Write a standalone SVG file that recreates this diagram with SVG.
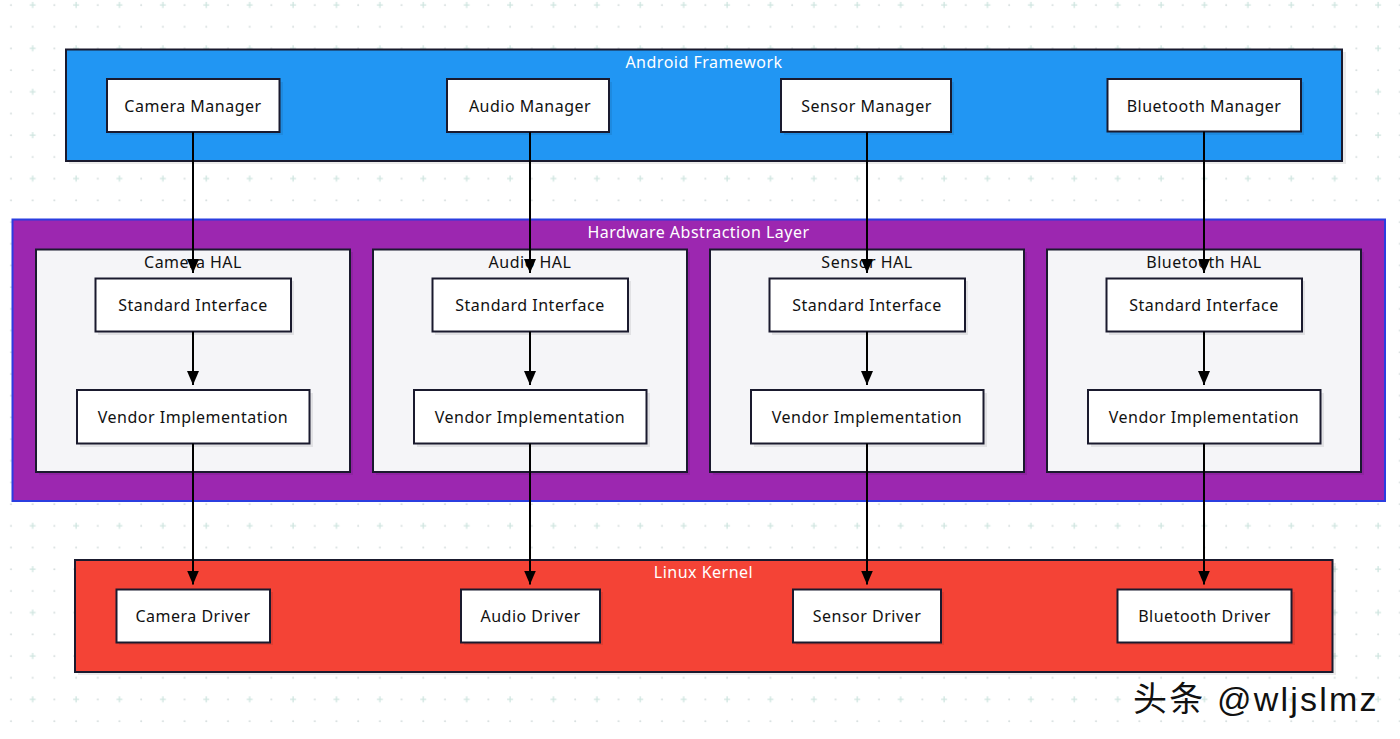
<svg xmlns="http://www.w3.org/2000/svg" width="1400" height="739" viewBox="0 0 1400 739">
<defs>
<pattern id="grid" x="0" y="-6" width="43.4" height="43.4" patternUnits="userSpaceOnUse">
<circle cx="11" cy="11" r="1" fill="#d6dede"/>
<circle cx="11" cy="32.7" r="1" fill="#d6dede"/>
<circle cx="32.7" cy="32.7" r="1" fill="#d6dede"/>
<path d="M29.7 11h6M32.7 8v6" stroke="#cfe5e0" stroke-width="1.3"/>
</pattern>
<marker id="arr" viewBox="0 0 14 12" refX="14" refY="6" markerWidth="14" markerHeight="12" markerUnits="userSpaceOnUse" orient="auto">
<path d="M0 0L14 6L0 12z" fill="#000"/>
</marker>
</defs>
<style>
.lbl{font-family:"Noto Sans","Liberation Sans",sans-serif;font-size:16px;letter-spacing:0.5px;fill:#111;text-anchor:middle;dominant-baseline:central}
.title{font-family:"Noto Sans","Liberation Sans",sans-serif;font-size:16px;letter-spacing:0.5px;fill:#fff;text-anchor:middle;dominant-baseline:central}
.box{fill:#fff;stroke:#1a1a2e;stroke-width:2}
.sh{fill:#000;fill-opacity:0.08}
.hal{fill:#f5f5f8;stroke:#1a1a2e;stroke-width:2}
.edge{stroke:#000;stroke-width:2;fill:none;marker-end:url(#arr)}
</style>
<rect width="1400" height="739" fill="#fff"/>
<rect width="1400" height="739" fill="url(#grid)"/>

<g id="android-framework">
<rect class="sh" x="69" y="52" width="1277" height="112"/>
<rect x="66" y="49.5" width="1276" height="111.5" fill="#2196F3" stroke="#1a1a2e" stroke-width="2"/>
<text class="title" x="704" y="62">Android Framework</text>
</g>

<g id="hal-layer">
<rect x="12.5" y="219.5" width="1372.5" height="281.5" fill="#9C27B0" stroke="#2b3de0" stroke-width="2"/>
<text class="title" x="698.5" y="232">Hardware Abstraction Layer</text>
</g>

<g id="camera-hal">
<rect class="sh" x="39" y="252" width="314" height="223"/>
<rect class="hal" x="36" y="249.5" width="314" height="222.5"/>
<text class="lbl" x="193" y="262">Camera HAL</text>
</g>
<g id="audio-hal">
<rect class="sh" x="376" y="252" width="314" height="223"/>
<rect class="hal" x="373" y="249.5" width="314" height="222.5"/>
<text class="lbl" x="530" y="262">Audio HAL</text>
</g>
<g id="sensor-hal">
<rect class="sh" x="713" y="252" width="314" height="223"/>
<rect class="hal" x="710" y="249.5" width="314" height="222.5"/>
<text class="lbl" x="867" y="262">Sensor HAL</text>
</g>
<g id="bluetooth-hal">
<rect class="sh" x="1050" y="252" width="314" height="223"/>
<rect class="hal" x="1047" y="249.5" width="314" height="222.5"/>
<text class="lbl" x="1204" y="262">Bluetooth HAL</text>
</g>

<g id="linux-kernel">
<rect class="sh" x="78" y="563" width="1258" height="112"/>
<rect x="75" y="560" width="1257.5" height="112" fill="#F44336" stroke="#1a1a2e" stroke-width="2"/>
<text class="title" x="703.5" y="572">Linux Kernel</text>
</g>

<g id="camera-manager"><rect class="sh" x="110" y="82" width="173" height="53"/><rect class="box" x="107" y="79" width="172.5" height="53"/><text class="lbl" x="193" y="105.5">Camera Manager</text></g>
<g id="audio-manager"><rect class="sh" x="450" y="82" width="162" height="53"/><rect class="box" x="447" y="79" width="162" height="53"/><text class="lbl" x="530" y="105.5">Audio Manager</text></g>
<g id="sensor-manager"><rect class="sh" x="784" y="82" width="170" height="53"/><rect class="box" x="781" y="79" width="170" height="53"/><text class="lbl" x="866.5" y="105.5">Sensor Manager</text></g>
<g id="bluetooth-manager"><rect class="sh" x="1110" y="82" width="194" height="53"/><rect class="box" x="1107.5" y="79" width="193.5" height="52.5"/><text class="lbl" x="1204" y="105.5">Bluetooth Manager</text></g>

<g id="camera-std"><rect class="sh" x="98" y="281" width="196" height="54"/><rect class="box" x="95.5" y="278.5" width="195.5" height="53"/><text class="lbl" x="193" y="305">Standard Interface</text></g>
<g id="audio-std"><rect class="sh" x="435" y="281" width="196" height="54"/><rect class="box" x="432.5" y="278.5" width="195.5" height="53"/><text class="lbl" x="530" y="305">Standard Interface</text></g>
<g id="sensor-std"><rect class="sh" x="772" y="281" width="196" height="54"/><rect class="box" x="769.5" y="278.5" width="195.5" height="53"/><text class="lbl" x="867" y="305">Standard Interface</text></g>
<g id="bluetooth-std"><rect class="sh" x="1109" y="281" width="196" height="54"/><rect class="box" x="1106.5" y="278.5" width="195.5" height="53"/><text class="lbl" x="1204" y="305">Standard Interface</text></g>

<g id="camera-vendor"><rect class="sh" x="80" y="393" width="233" height="54"/><rect class="box" x="77" y="390" width="232.5" height="53.5"/><text class="lbl" x="193" y="416.5">Vendor Implementation</text></g>
<g id="audio-vendor"><rect class="sh" x="417" y="393" width="233" height="54"/><rect class="box" x="414" y="390" width="232.5" height="53.5"/><text class="lbl" x="530" y="416.5">Vendor Implementation</text></g>
<g id="sensor-vendor"><rect class="sh" x="754" y="393" width="233" height="54"/><rect class="box" x="751" y="390" width="232.5" height="53.5"/><text class="lbl" x="867" y="416.5">Vendor Implementation</text></g>
<g id="bluetooth-vendor"><rect class="sh" x="1091" y="393" width="233" height="54"/><rect class="box" x="1088" y="390" width="232.5" height="53.5"/><text class="lbl" x="1204" y="416.5">Vendor Implementation</text></g>

<g id="camera-driver"><rect class="sh" x="119" y="592" width="154" height="53"/><rect class="box" x="116.5" y="589.5" width="153.5" height="53"/><text class="lbl" x="193" y="616">Camera Driver</text></g>
<g id="audio-driver"><rect class="sh" x="464" y="592" width="139" height="53"/><rect class="box" x="461" y="589.5" width="139" height="53"/><text class="lbl" x="530.5" y="616">Audio Driver</text></g>
<g id="sensor-driver"><rect class="sh" x="796" y="592" width="148" height="53"/><rect class="box" x="793" y="589.5" width="148" height="53"/><text class="lbl" x="867" y="616">Sensor Driver</text></g>
<g id="bluetooth-driver"><rect class="sh" x="1120" y="592" width="175" height="53"/><rect class="box" x="1117.5" y="589.5" width="174" height="53"/><text class="lbl" x="1204.5" y="616">Bluetooth Driver</text></g>

<g id="connectors">
<path class="edge" d="M193 132V273"/>
<path class="edge" d="M530 132V273"/>
<path class="edge" d="M867 132V273"/>
<path class="edge" d="M1204 131.5V273"/>
<path class="edge" d="M193 331.5V385"/>
<path class="edge" d="M530 331.5V385"/>
<path class="edge" d="M867 331.5V385"/>
<path class="edge" d="M1204 331.5V385"/>
<path class="edge" d="M193 443.5V584.5"/>
<path class="edge" d="M530 443.5V584.5"/>
<path class="edge" d="M867 443.5V584.5"/>
<path class="edge" d="M1204 443.5V584.5"/>
</g>

<text x="1133" y="711" font-family="'Liberation Sans','Noto Sans CJK SC',sans-serif" font-size="34" letter-spacing="2.2" fill="#111" stroke="#fff" stroke-width="0.6" paint-order="stroke">头条 @wljslmz</text>
</svg>
